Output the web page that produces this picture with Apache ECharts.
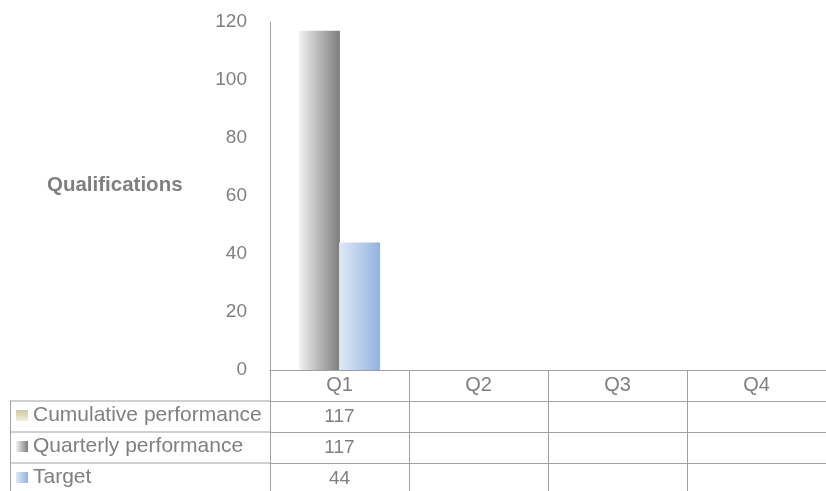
<!DOCTYPE html>
<html><head><meta charset="utf-8">
<script src="https://cdn.jsdelivr.net/npm/echarts@6/dist/echarts.min.js"></script>
<style>html,body{margin:0;padding:0;background:#fff}#c{width:826px;height:491px}</style>
</head><body><div id="c"></div>
<script>
var categories = ['Q1', 'Q2', 'Q3', 'Q4'];
var cumulative = [117, null, null, null];
var quarterly = [117, null, null, null];
var target = [44, null, null, null];
var yTicks = [0, 20, 40, 60, 80, 100, 120];
var seriesNames = ['Cumulative performance', 'Quarterly performance', 'Target'];

var G = echarts.graphic;
var gridLine = '#a0a0a0';
var txt = '#7f7f7f';
var font = 'Liberation Sans, Arial, sans-serif';
var gOlive = new G.LinearGradient(0, 0, 0, 1, [{offset: 0, color: '#cfc8a2'}, {offset: 1, color: '#f1efe3'}]);
var gGrey = new G.LinearGradient(0, 0, 1, 0, [{offset: 0, color: '#f2f2f2'}, {offset: 1, color: '#7c7c7c'}]);
var gBlue = new G.LinearGradient(0, 0, 1, 0, [{offset: 0, color: '#e0e9f6'}, {offset: 1, color: '#92b2e2'}]);
var keyColors = [gOlive, gGrey, gBlue];
var rowOffsets = [31, 62, 93];
function rowLabels(arr) { return arr.map(function (v) { return v == null ? '' : String(v); }); }
function rowAxis(arr, off) {
  return {
    type: 'category', data: rowLabels(arr), position: 'bottom', offset: off,
    axisLine: {show: true, lineStyle: {color: gridLine, width: 1}},
    axisTick: {show: false}, splitLine: {show: false},
    axisLabel: {color: txt, fontSize: 19, fontFamily: font, margin: 6, interval: 0}
  };
}
function rowLegend(i) {
  return {
    orient: 'horizontal', left: 16, top: 370 + rowOffsets[i] + 4, itemGap: 0, padding: 0,
    itemWidth: 12, itemHeight: 11, icon: 'rect', selectedMode: false,
    textStyle: {color: txt, fontSize: 21, fontFamily: font},
    data: [{name: seriesNames[i], itemStyle: {color: keyColors[i]}}]
  };
}
var chart = echarts.init(document.getElementById('c'));
chart.setOption({
  animation: false,
  backgroundColor: '#fff',
  title: {text: 'Qualifications', left: 47, top: 175, padding: 0,
    textStyle: {color: txt, fontSize: 20.5, fontWeight: 'bold', fontFamily: font}},
  grid: {left: 270, top: 22, width: 560, height: 348, containLabel: false},
  legend: [rowLegend(0), rowLegend(1), rowLegend(2)],
  xAxis: [
    {
      type: 'category', data: categories, boundaryGap: true,
      axisLine: {show: true, lineStyle: {color: gridLine, width: 1}},
      axisTick: {show: true, length: 125, interval: 0, lineStyle: {color: gridLine, width: 1}},
      axisLabel: {color: txt, fontSize: 20, fontFamily: font, margin: 5, interval: 0}
    },
    rowAxis(cumulative, rowOffsets[0]),
    rowAxis(quarterly, rowOffsets[1]),
    rowAxis(target, rowOffsets[2])
  ],
  yAxis: {
    type: 'value', min: 0, max: 120, interval: 20,
    axisLine: {show: true, lineStyle: {color: gridLine, width: 1}},
    axisTick: {show: false}, splitLine: {show: false},
    axisLabel: {color: txt, fontSize: 19, fontFamily: font, margin: 23,
      formatter: function (v) { return yTicks.indexOf(v) >= 0 ? String(v) : ''; }}
  },
  series: [
    {name: seriesNames[0], type: 'line', data: cumulative, showSymbol: false, symbol: 'none',
      itemStyle: {color: '#c8c09a'}, lineStyle: {color: '#c8c09a'}},
    {name: seriesNames[1], type: 'bar', data: quarterly, barWidth: 41, barGap: '-2%',
      itemStyle: {color: gGrey}},
    {name: seriesNames[2], type: 'bar', data: target, barWidth: 41, barGap: '-2%',
      itemStyle: {color: gBlue}}
  ],
  graphic: [
    {type: 'line', shape: {x1: 10, y1: 401, x2: 270, y2: 401}, style: {stroke: gridLine, lineWidth: 1}},
    {type: 'line', shape: {x1: 10, y1: 432, x2: 270, y2: 432}, style: {stroke: gridLine, lineWidth: 1}},
    {type: 'line', shape: {x1: 10, y1: 463, x2: 270, y2: 463}, style: {stroke: gridLine, lineWidth: 1}},
    {type: 'line', shape: {x1: 10.5, y1: 401, x2: 10.5, y2: 491}, style: {stroke: gridLine, lineWidth: 1}}
  ]
});
</script></body></html>
